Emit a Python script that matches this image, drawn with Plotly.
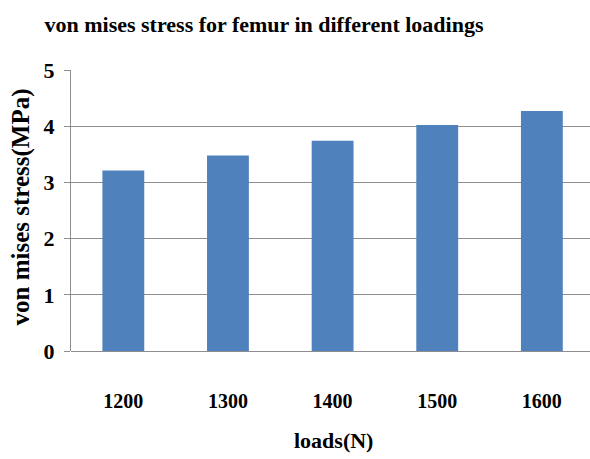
import plotly.graph_objects as go

# Femur von Mises stress under increasing loads
loads = ["1200", "1300", "1400", "1500", "1600"]
stress_mpa = [3.21, 3.48, 3.74, 4.02, 4.27]
y_ticks = [0, 1, 2, 3, 4, 5]

BAR_BLUE = "#4f81bd"
GRID = "#8e8e8e"
FONT = "Liberation Serif"

fig = go.Figure(
    go.Bar(
        x=loads,
        y=stress_mpa,
        marker=dict(color=BAR_BLUE, line=dict(width=0)),
        width=0.4,
    )
)

fig.update_layout(
    width=590,
    height=459,
    margin=dict(l=71, r=0, t=70, b=108),
    paper_bgcolor="white",
    plot_bgcolor="white",
    showlegend=False,
    font=dict(family=FONT, color="black"),
    title=dict(
        text="<b>von mises stress for femur in different loadings</b>",
        font=dict(family=FONT, size=22, color="black"),
        xref="container",
        yref="container",
        x=264 / 590,
        xanchor="center",
        y=1 - 24 / 459,
        yanchor="middle",
    ),
    annotations=[
        dict(
            text="<b>von mises stress(MPa)</b>",
            xref="paper",
            yref="paper",
            x=-51 / 519,
            y=(351.5 - 208) / 281,
            xanchor="center",
            yanchor="middle",
            textangle=-90,
            showarrow=False,
            font=dict(family=FONT, size=25, color="black"),
        ),
        dict(
            text="<b>loads(N)</b>",
            xref="paper",
            yref="paper",
            x=(333 - 71) / 519,
            y=-(441 - 351.5) / 281,
            xanchor="center",
            yanchor="middle",
            showarrow=False,
            font=dict(family=FONT, size=22, color="black"),
        ),
    ],
)

fig.update_xaxes(
    type="category",
    range=[-0.5, 4.46],
    showgrid=False,
    showline=False,
    ticks="",
    tickfont=dict(family=FONT, size=20, color="black"),
    tickprefix="<b>",
    ticksuffix="</b>",
    ticklabelstandoff=36,
)

fig.update_yaxes(
    range=[0, 5],
    tickvals=y_ticks,
    ticktext=[f"<b>{v}</b>" for v in y_ticks],
    showgrid=True,
    gridcolor=GRID,
    gridwidth=1,
    showline=True,
    linecolor=GRID,
    linewidth=1,
    ticks="outside",
    ticklen=6,
    tickcolor=GRID,
    tickfont=dict(family=FONT, size=22, color="black"),
    ticklabelstandoff=5,
    zeroline=True,
    zerolinecolor=GRID,
    zerolinewidth=1,
)

fig.write_html("out.html")
